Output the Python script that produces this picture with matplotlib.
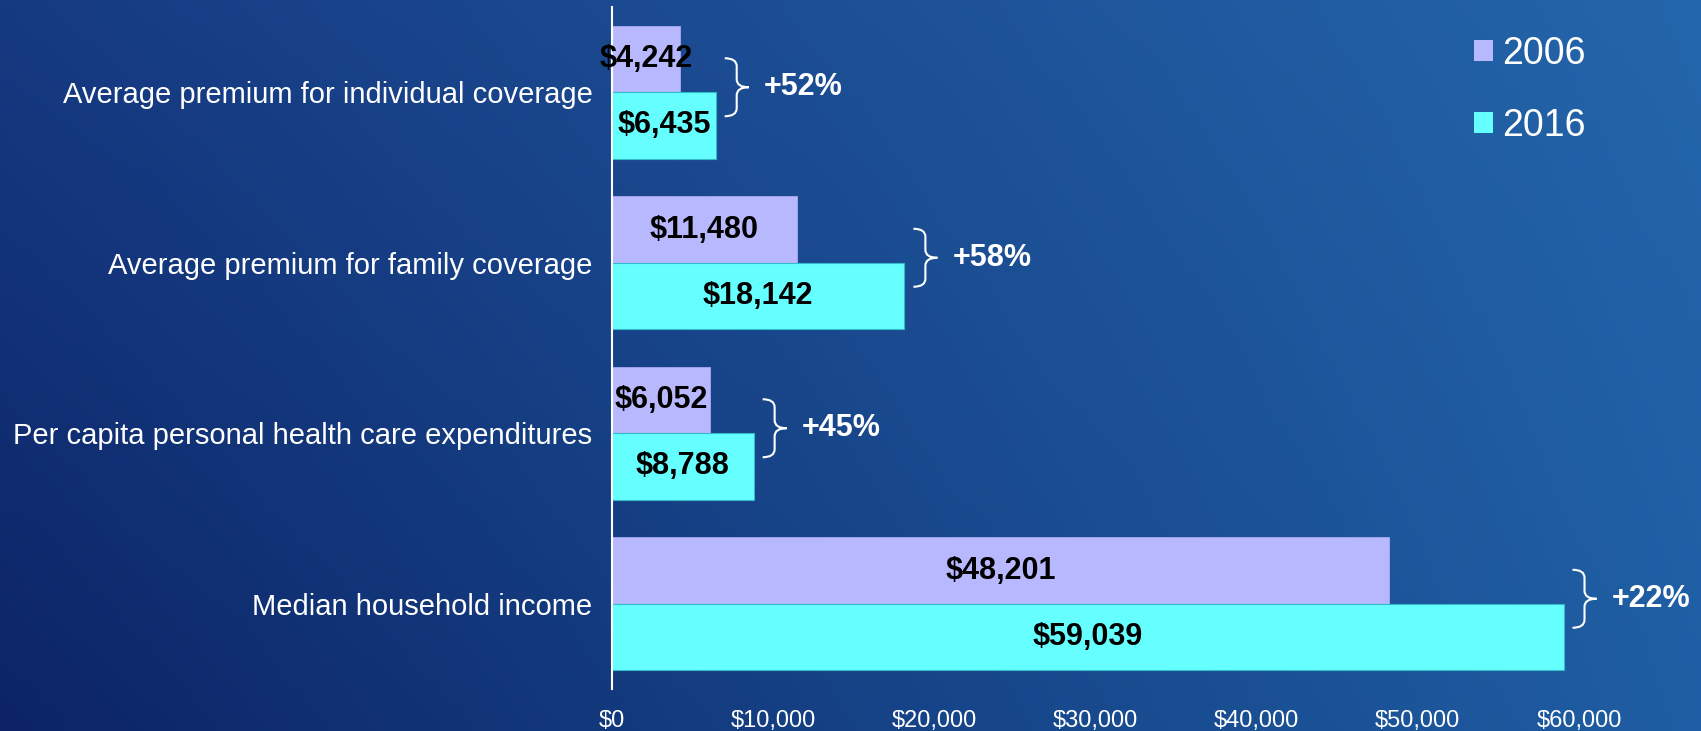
import matplotlib
matplotlib.use("Agg")
import matplotlib.pyplot as plt
import matplotlib.transforms as mtransforms
from matplotlib.path import Path
from matplotlib.patches import PathPatch, Patch
import numpy as np

# chart data
categories = [
    "Average premium for individual coverage",
    "Average premium for family coverage",
    "Per capita personal health care expenditures",
    "Median household income",
]
values_2006 = [4242, 11480, 6052, 48201]
values_2016 = [6435, 18142, 8788, 59039]
series_names = ["2006", "2016"]
x_ticks = [0, 10000, 20000, 30000, 40000, 50000, 60000]

color_2006 = "#b8b8ff"
color_2016 = "#66ffff"

plt.rcParams["font.family"] = ["Liberation Sans", "DejaVu Sans"]

W, H, DPI = 1701, 731, 100
fig = plt.figure(figsize=(W / DPI, H / DPI), dpi=DPI)

# gradient background (dark bottom-left, lighter top-right)
bg = fig.add_axes([0, 0, 1, 1], zorder=-10)
bg.axis("off")
tl = np.array([0x16, 0x3a, 0x82]) / 255
tr = np.array([0x24, 0x66, 0xab]) / 255
bl = np.array([0x0c, 0x24, 0x66]) / 255
br = np.array([0x1f, 0x5e, 0xa4]) / 255
u = np.linspace(0, 1, 200)[None, :, None]
v = np.linspace(0, 1, 100)[:, None, None]
grad = (1 - v) * ((1 - u) * tl + u * tr) + v * ((1 - u) * bl + u * br)
bg.imshow(grad, aspect="auto", extent=[0, 1, 0, 1])
bg.set_xlim(0, 1)
bg.set_ylim(0, 1)

ax = fig.add_axes([612 / W, 1 - 689 / H, (1579 - 612) / W, (689 - 7) / H])
ax.set_facecolor("none")

y = np.arange(len(categories))
bh = 0.39
b1 = ax.barh(y - bh / 2, values_2006, height=bh, color=color_2006,
             edgecolor="#a8a8f0", linewidth=0.6)
b2 = ax.barh(y + bh / 2, values_2016, height=bh, color=color_2016,
             edgecolor="#33bbcc", linewidth=0.8)

for bars, vals in ((b1, values_2006), (b2, values_2016)):
    for rect, v_ in zip(bars, vals):
        ax.text(rect.get_x() + rect.get_width() / 2,
                rect.get_y() + rect.get_height() / 2,
                f"${v_:,}", ha="center", va="center",
                fontsize=22, fontweight="bold", color="black")

ax.set_xlim(0, 60000)
ax.set_ylim(3.5, -0.5)
ax.set_yticks(y)
ax.set_yticklabels(categories, fontsize=21, color="white")
ax.set_xticks(x_ticks)
ax.set_xticklabels([f"${t:,}" for t in x_ticks], fontsize=17, color="white")
ax.tick_params(axis="both", length=0)
ax.tick_params(axis="y", pad=14)
ax.tick_params(axis="x", pad=15)
for s in ("top", "right", "bottom"):
    ax.spines[s].set_visible(False)
ax.spines["left"].set_color("white")
ax.spines["left"].set_linewidth(1.5)

# braces with percent change (sizes in pixels)
px = 1 / DPI
hh, x1, w, r = 29, 12, 24, 8
for i, (a, b) in enumerate(zip(values_2006, values_2016)):
    x_end = max(a, b)
    trans = fig.dpi_scale_trans + mtransforms.ScaledTranslation(
        x_end, i, ax.transData)
    ox, oy = 9, 5
    verts = [
        (ox, oy + hh), (ox + x1, oy + hh), (ox + x1, oy + hh - r),
        (ox + x1, oy + r), (ox + x1, oy), (ox + w, oy),
        (ox + w, oy), (ox + x1, oy), (ox + x1, oy - r),
        (ox + x1, oy - hh + r), (ox + x1, oy - hh), (ox, oy - hh),
    ]
    codes = [Path.MOVETO, Path.CURVE3, Path.CURVE3, Path.LINETO,
             Path.CURVE3, Path.CURVE3,
             Path.MOVETO, Path.CURVE3, Path.CURVE3, Path.LINETO,
             Path.CURVE3, Path.CURVE3]
    verts = [(vx * px, vy * px) for vx, vy in verts]
    ax.add_patch(PathPatch(Path(verts, codes), transform=trans,
                           facecolor="none", edgecolor="white",
                           linewidth=1.5, clip_on=False))
    pct = round((b / a - 1) * 100)
    ax.text((ox + w + 15) * px, oy * px, f"+{pct}%", transform=trans,
            ha="left", va="center", fontsize=22, fontweight="bold",
            color="white", clip_on=False)

handles = [Patch(facecolor=color_2006), Patch(facecolor=color_2016)]
leg = fig.legend(handles, series_names, loc="upper left",
                 bbox_to_anchor=(1474 / W, 1 - 36 / H), frameon=False,
                 fontsize=27, handlelength=0.5, handleheight=0.5,
                 handletextpad=0.25, labelspacing=0.95, borderpad=0,
                 borderaxespad=0)
for t in leg.get_texts():
    t.set_color("white")

fig.savefig("out.png", dpi=DPI)
